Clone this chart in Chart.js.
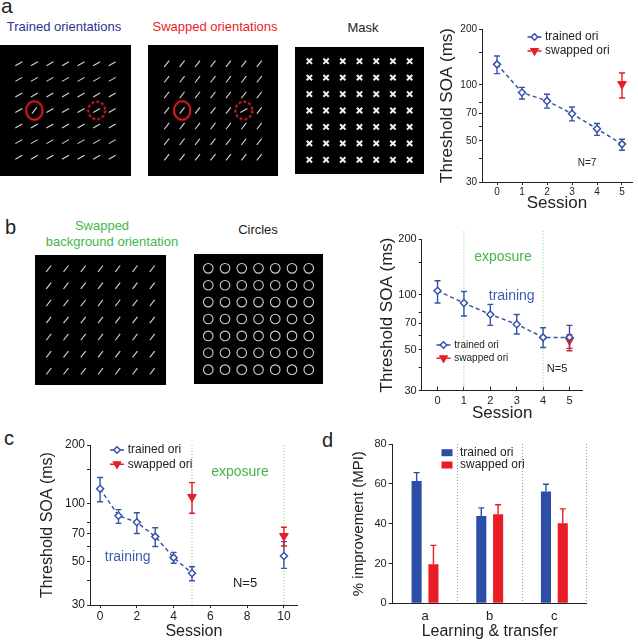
<!DOCTYPE html>
<html>
<head>
<meta charset="utf-8">
<script src="https://cdn.jsdelivr.net/npm/chart.js@4.4.1/dist/chart.umd.min.js"></script>
<style>
  body { margin: 0; background: #fff; font-family: "Liberation Sans", Arial, Helvetica, sans-serif; }
  #fig { position: relative; width: 638px; height: 640px; overflow: hidden; background: #fff; }
  #fig canvas { position: absolute; }
  .stim { background: #000; }
  .lbl { position: absolute; white-space: nowrap; line-height: 1; color: #222; }
  .ctr { width: 200px; text-align: center; }
</style>
</head>
<body>
<div id="fig">
  <div class="lbl" style="left:1px;top:-5px;font-size:21px;">a</div>
  <div class="lbl" style="left:5px;top:217px;font-size:20px;">b</div>
  <div class="lbl" style="left:4px;top:428px;font-size:20px;">c</div>
  <div class="lbl" style="left:322px;top:430px;font-size:20px;">d</div>

  <div class="lbl ctr" style="left:-36px;top:20px;font-size:13px;color:#2e3192;">Trained orientations</div>
  <div class="lbl ctr" style="left:115px;top:20px;font-size:13px;color:#ed1c24;">Swapped orientations</div>
  <div class="lbl ctr" style="left:263px;top:21px;font-size:13px;">Mask</div>
  <div class="lbl ctr" style="left:2px;top:219px;font-size:13px;color:#45b549;">Swapped</div>
  <div class="lbl ctr" style="left:12px;top:235px;font-size:13px;color:#45b549;">background orientation</div>
  <div class="lbl ctr" style="left:158px;top:223px;font-size:13px;">Circles</div>

  <canvas id="stimTrained" class="stim" width="131" height="131" style="left:0px;top:45px;"></canvas>
  <canvas id="stimSwapped" class="stim" width="130" height="131" style="left:148px;top:45px;"></canvas>
  <canvas id="stimMask" class="stim" width="129" height="127" style="left:295px;top:47px;"></canvas>
  <canvas id="stimBackground" class="stim" width="131" height="130" style="left:35px;top:255px;"></canvas>
  <canvas id="stimCircles" class="stim" width="129" height="130" style="left:194px;top:254px;"></canvas>

  <canvas id="chartA" width="208" height="205" style="left:430px;top:12px;"></canvas>
  <canvas id="chartB" width="268" height="200" style="left:370px;top:225px;"></canvas>
  <canvas id="chartC" width="320" height="215" style="left:0px;top:425px;"></canvas>
  <canvas id="chartD" width="318" height="215" style="left:320px;top:425px;"></canvas>
</div>

<script>
// ---- panel a: threshold SOA by session ----
const sessionsA = [0, 1, 2, 3, 4, 5];
const trainedA = [129, 91, 82, 70, 58, 48];
const trainedA_hi = [143, 97, 89, 76, 62, 51];
const trainedA_lo = [115, 84, 75, 64, 53.5, 44.5];
const swappedSessA = [5];
const swappedA = [101];
const swappedA_hi = [116];
const swappedA_lo = [85];

// ---- panel b ----
const sessionsB = [0, 1, 2, 3, 4, 5];
const trainedB = [105, 90, 78, 69, 58.5, 58.5];
const trainedB_hi = [119, 104, 88.5, 78, 66, 68];
const trainedB_lo = [90, 76.5, 68, 61, 51.5, 51];
const swappedSessB = [5];
const swappedB = [56.5];
const swappedB_hi = [60.5];
const swappedB_lo = [49.5];
const exposureB = [1, 4];

// ---- panel c ----
const sessionsC = [0, 1, 2, 3, 4, 5, 10];
const trainedC = [119, 86.5, 80, 67.5, 52.6, 43.7, 53.6];
const trainedC_hi = [136, 93, 89.6, 75, 56, 47.2, 63.6];
const trainedC_lo = [102, 79, 70, 60, 49.2, 40, 46.3];
const swappedSessC = [5, 10];
const swappedC = [108, 68];
const swappedC_hi = [128, 75.4];
const swappedC_lo = [89, 60.4];
const exposureC = [5, 10];

// ---- panel d: % improvement ----
const conditionsD = ['a', 'b', 'c'];
const trainedD = [61.4, 43.8, 56.2];
const trainedD_hi = [65.6, 47.9, 59.8];
const swappedD = [19.6, 44.7, 40.2];
const swappedD_hi = [29.1, 49.5, 47.4];

// ticks
const soaTicks = [30, 40, 50, 60, 70, 80, 100, 150, 200];
const soaLabels = [30, 50, 70, 100, 200];
const sessionTicksAB = [0, 1, 2, 3, 4, 5];
const sessionTicksC = [0, 2, 4, 6, 8, 10];
const mpiTicks = [0, 20, 40, 60, 80];

// stimulus displays (7x7 grids)
const gridCols = [1, 2, 3, 4, 5, 6, 7];
const gridRows = [1, 2, 3, 4, 5, 6, 7];
const shallowDeg = 30;
const steepDeg = 52;
const solidCell = [2, 4];
const dashedCell = [6, 4];

const BLUE = '#3653a6';
const BAR_BLUE = '#2c4ea6';
const RED = '#e81d25';
const GREEN = '#45b549';
const FONT = '"Liberation Sans", Arial, Helvetica, sans-serif';

Chart.defaults.font.family = FONT;
Chart.defaults.color = '#222';
Chart.defaults.animation = false;
Chart.defaults.events = [];
Chart.defaults.plugins.legend.display = false;
Chart.defaults.plugins.tooltip.enabled = false;

function drawMarker(ctx, style, x, y, r, fill, stroke, lw) {
    ctx.beginPath();
    if (style === 'rectRot') {
        ctx.moveTo(x, y - r); ctx.lineTo(x + r, y); ctx.lineTo(x, y + r); ctx.lineTo(x - r, y);
    } else {
        ctx.moveTo(x - r * 0.9, y - r * 0.55); ctx.lineTo(x + r * 0.9, y - r * 0.55); ctx.lineTo(x, y + r);
    }
    ctx.closePath();
    ctx.fillStyle = fill;
    ctx.fill();
    ctx.lineWidth = lw;
    ctx.strokeStyle = stroke;
    ctx.stroke();
}

// error bars, exposure lines, text notes and the small legends
const figExtras = {
    id: 'figExtras',
    beforeDatasetsDraw(chart, args, opts) {
        const ctx = chart.ctx, area = chart.chartArea;
        const xs = chart.scales.x, ys = chart.scales.y;
        (opts.vlines || []).forEach(v => {
            const x = xs.getPixelForValue(v);
            ctx.save();
            ctx.strokeStyle = '#7fcf7f';
            ctx.lineWidth = 1;
            ctx.setLineDash([1, 2]);
            ctx.beginPath();
            ctx.moveTo(x, area.top - (opts.vExtend || 0));
            ctx.lineTo(x, area.bottom);
            ctx.stroke();
            ctx.restore();
        });
        chart.data.datasets.forEach((ds, i) => {
            if (!ds.errHi) return;
            const meta = chart.getDatasetMeta(i);
            ctx.save();
            ctx.strokeStyle = ds.errColor;
            ctx.lineWidth = 1.4;
            meta.data.forEach((el, j) => {
                const top = ys.getPixelForValue(ds.errHi[j]);
                const bot = ds.errLo ? ys.getPixelForValue(ds.errLo[j]) : el.y;
                ctx.beginPath();
                ctx.moveTo(el.x, top); ctx.lineTo(el.x, bot);
                ctx.moveTo(el.x - 3, top); ctx.lineTo(el.x + 3, top);
                if (ds.errLo) { ctx.moveTo(el.x - 3, bot); ctx.lineTo(el.x + 3, bot); }
                ctx.stroke();
            });
            ctx.restore();
        });
    },
    afterDatasetsDraw(chart, args, opts) {
        const ctx = chart.ctx, area = chart.chartArea;
        ctx.save();
        ctx.textBaseline = 'middle';
        (opts.notes || []).forEach(n => {
            ctx.font = n.size + 'px ' + FONT;
            ctx.fillStyle = n.color || '#222';
            ctx.textAlign = 'center';
            ctx.fillText(n.text, area.left + n.x, area.top + n.y);
        });
        const lg = opts.legend;
        if (lg) {
            let y = area.top + lg.y;
            const cx = area.left + lg.x;
            chart.data.datasets.forEach(ds => {
                if (chart.config.type === 'bar') {
                    ctx.fillStyle = ds.backgroundColor;
                    ctx.fillRect(cx - 5.5, y - 3.5, 11, 7);
                } else {
                    ctx.strokeStyle = ds.errColor;
                    ctx.lineWidth = 1.5;
                    ctx.beginPath();
                    ctx.moveTo(cx - 7, y); ctx.lineTo(cx - 3, y);
                    ctx.moveTo(cx + 3, y); ctx.lineTo(cx + 7, y);
                    ctx.stroke();
                    if (ds.pointStyle === 'rectRot') drawMarker(ctx, 'rectRot', cx, y, 3.3, '#fff', ds.errColor, 1.5);
                    else drawMarker(ctx, 'tri', cx, y, 4.5, ds.errColor, ds.errColor, 1);
                }
                ctx.font = lg.size + 'px ' + FONT;
                ctx.fillStyle = '#222';
                ctx.textAlign = 'left';
                ctx.fillText(ds.label, cx + lg.tx, y);
                y += lg.gap;
            });
        }
        ctx.restore();
    }
};

function axisGrid(len) {
    return { drawOnChartArea: false, drawTicks: true, tickLength: len, color: '#222', lineWidth: 1 };
}

function soaChart(id, c) {
    return new Chart(document.getElementById(id), {
        type: 'line',
        data: {
            datasets: [
                {
                    label: 'trained ori',
                    data: c.sess.map((x, i) => ({ x: x, y: c.trained[i] })),
                    errHi: c.trainedHi, errLo: c.trainedLo, errColor: BLUE,
                    borderColor: BLUE, borderWidth: 1.5, borderDash: [4, 3],
                    pointStyle: 'rectRot', pointRadius: 3.5, pointBorderWidth: 1.5,
                    pointBorderColor: BLUE, pointBackgroundColor: '#fff',
                    segment: c.segment
                },
                {
                    label: 'swapped ori',
                    data: c.swSess.map((x, i) => ({ x: x, y: c.swapped[i] })),
                    errHi: c.swappedHi, errLo: c.swappedLo, errColor: RED,
                    showLine: false, borderColor: RED,
                    pointStyle: 'triangle', pointRotation: 180, pointRadius: 5,
                    pointBorderWidth: 1, pointBorderColor: RED, pointBackgroundColor: RED
                }
            ]
        },
        options: {
            responsive: false,
            layout: { padding: c.pad },
            scales: {
                x: {
                    type: 'linear', min: c.xmin, max: c.xmax,
                    afterBuildTicks: s => { s.ticks = c.xticks.map(v => ({ value: v })); },
                    afterFit: s => { s.height = c.xh; },
                    grid: axisGrid(c.xTickLen),
                    border: { display: true, color: '#222', width: 1 },
                    ticks: { font: { size: c.tickSize }, padding: c.xTickPad, autoSkip: false, maxRotation: 0 },
                    title: { display: true, text: 'Session', font: { size: c.titleSize, lineHeight: 1 }, padding: { top: 0, bottom: c.xtPad } }
                },
                y: {
                    type: 'logarithmic', min: 30, max: 200,
                    afterBuildTicks: s => { s.ticks = soaTicks.map(v => ({ value: v })); },
                    afterFit: s => { s.width = c.yw; },
                    grid: axisGrid(3),
                    border: { display: true, color: '#222', width: 1 },
                    ticks: {
                        font: { size: c.tickSize }, padding: 2, autoSkip: false,
                        callback: v => soaLabels.includes(v) ? String(v) : ''
                    },
                    title: { display: true, text: 'Threshold SOA (ms)', font: { size: c.titleSize, lineHeight: 1.2 }, padding: { top: c.ytPad, bottom: 0 } }
                }
            },
            plugins: { figExtras: c.extras }
        },
        plugins: [figExtras]
    });
}

soaChart('chartA', {
    sess: sessionsA, trained: trainedA, trainedHi: trainedA_hi, trainedLo: trainedA_lo,
    swSess: swappedSessA, swapped: swappedA, swappedHi: swappedA_hi, swappedLo: swappedA_lo,
    xmin: -0.6, xmax: 5.4, xticks: sessionTicksAB, xTickLen: 3, xTickPad: 1,
    pad: { top: 17, right: 2, bottom: 0, left: 0 }, xh: 35, yw: 52,
    tickSize: 10, titleSize: 17, xtPad: 5, ytPad: 7,
    extras: {
        notes: [{ text: 'N=7', x: 105, y: 134, size: 10 }],
        legend: { x: 52.5, y: 8, gap: 14, tx: 10.5, size: 12 }
    }
});

soaChart('chartB', {
    sess: sessionsB, trained: trainedB, trainedHi: trainedB_hi, trainedLo: trainedB_lo,
    swSess: swappedSessB, swapped: swappedB, swappedHi: swappedB_hi, swappedLo: swappedB_lo,
    xmin: -0.6, xmax: 5.5, xticks: sessionTicksAB, xTickLen: -4, xTickPad: 8,
    pad: { top: 14.3, right: 55.3, bottom: 0, left: 0 }, xh: 34.3, yw: 51.7,
    tickSize: 11, titleSize: 17, xtPad: 3.5, ytPad: 7,
    extras: {
        vlines: exposureB, vExtend: 8,
        notes: [
            { text: 'exposure', x: 81.3, y: 17.4, size: 14, color: GREEN },
            { text: 'training', x: 90, y: 56.4, size: 14, color: '#3d5cb0' },
            { text: 'N=5', x: 135.3, y: 130, size: 11 }
        ],
        legend: { x: 21.8, y: 105.7, gap: 13.3, tx: 10.8, size: 10 }
    }
});

soaChart('chartC', {
    sess: sessionsC, trained: trainedC, trainedHi: trainedC_hi, trainedLo: trainedC_lo,
    swSess: swappedSessC, swapped: swappedC, swappedHi: swappedC_hi, swappedLo: swappedC_lo,
    xmin: -0.55, xmax: 10.75, xticks: sessionTicksC, xTickLen: 3, xTickPad: 1,
    pad: { top: 20, right: 22.3, bottom: 0, left: 0 }, xh: 35, yw: 90,
    tickSize: 12, titleSize: 16, xtPad: 0, ytPad: 38.4,
    segment: { borderColor: ctx => sessionsC[ctx.p1DataIndex] > 5 ? 'rgba(0,0,0,0)' : undefined },
    extras: {
        vlines: exposureC,
        notes: [
            { text: 'exposure', x: 150, y: 26.7, size: 14, color: GREEN },
            { text: 'training', x: 37.7, y: 111.7, size: 14, color: '#3d5cb0' },
            { text: 'N=5', x: 155, y: 138, size: 13 }
        ],
        legend: { x: 27, y: 5, gap: 14.3, tx: 10.7, size: 12 }
    }
});

new Chart(document.getElementById('chartD'), {
    type: 'bar',
    data: {
        labels: conditionsD,
        datasets: [
            { label: 'trained ori', data: trainedD, errHi: trainedD_hi, errColor: BAR_BLUE, backgroundColor: BAR_BLUE, borderWidth: 0 },
            { label: 'swapped ori', data: swappedD, errHi: swappedD_hi, errColor: RED, backgroundColor: RED, borderWidth: 0 }
        ]
    },
    options: {
        responsive: false,
        layout: { padding: { top: 19, right: 51.3, bottom: 0, left: 0 } },
        datasets: { bar: { barPercentage: 0.6, categoryPercentage: 0.52 } },
        scales: {
            x: {
                afterFit: s => { s.height = 36.7; },
                grid: { drawOnChartArea: true, drawTicks: false, color: '#9a9a9a', lineWidth: 1 },
                border: { display: true, color: '#222', width: 1, dash: [1, 2] },
                ticks: { font: { size: 13 }, padding: 5 },
                title: { display: true, text: 'Learning & transfer', font: { size: 16, lineHeight: 1 }, padding: { top: 0, bottom: 0 } }
            },
            y: {
                min: 0, max: 80,
                afterBuildTicks: s => { s.ticks = mpiTicks.map(v => ({ value: v })); },
                afterFit: s => { s.width = 72.7; },
                grid: { drawOnChartArea: false, drawTicks: true, tickLength: 4, color: '#222' },
                border: { display: true, color: '#222', width: 1 },
                ticks: { font: { size: 11 }, padding: 2 },
                title: { display: true, text: '% improvement (MPI)', font: { size: 15, lineHeight: 1.2 }, padding: { top: 30, bottom: 0 } }
            }
        },
        plugins: { figExtras: { legend: { x: 54.3, y: 8.7, gap: 12.3, tx: 13, size: 12 } } }
    },
    plugins: [figExtras]
});

// ---- stimulus displays ----
const allCells = [];
gridRows.forEach(r => gridCols.forEach(c => allCells.push([c, r])));
const isCell = (a, b) => a[0] === b[0] && a[1] === b[1];
const bgCells = allCells.filter(p => !isCell(p, solidCell) && !isCell(p, dashedCell));

function ringImage(rx, ry, dashed) {
    const cv = document.createElement('canvas');
    cv.width = 24; cv.height = 24;
    const g = cv.getContext('2d');
    g.strokeStyle = RED;
    g.lineWidth = 2;
    if (dashed) g.setLineDash([3, 2]);
    g.beginPath();
    g.ellipse(12, 12, rx, ry, 0, 0, Math.PI * 2);
    g.stroke();
    return cv;
}
const solidRing = ringImage(8.2, 9.3, false);
const dashedRing = ringImage(8.5, 8.8, true);

function barsSet(cells, deg) {
    return {
        data: cells.map(p => ({ x: p[0], y: p[1] })),
        pointStyle: 'line', pointRotation: -deg, pointRadius: 4,
        pointBorderWidth: 1.1, pointBorderColor: '#d6d6d6', clip: false
    };
}
function ringSet(cell, img) {
    return { data: [{ x: cell[0], y: cell[1] }], pointStyle: img, pointRadius: 10, clip: false };
}
function stimulusChart(id, datasets) {
    return new Chart(document.getElementById(id), {
        type: 'scatter',
        data: { datasets: datasets },
        options: {
            responsive: false,
            layout: { padding: 0 },
            scales: {
                x: { display: false, min: 0.5, max: 7.5 },
                y: { display: false, min: 0.5, max: 7.5, reverse: true }
            }
        }
    });
}

stimulusChart('stimTrained', [
    barsSet(bgCells, shallowDeg),
    barsSet([solidCell], steepDeg),
    barsSet([dashedCell], shallowDeg),
    ringSet(solidCell, solidRing),
    ringSet(dashedCell, dashedRing)
]);
stimulusChart('stimSwapped', [
    barsSet(bgCells, steepDeg),
    barsSet([solidCell], steepDeg),
    barsSet([dashedCell], shallowDeg),
    ringSet(solidCell, solidRing),
    ringSet(dashedCell, dashedRing)
]);
stimulusChart('stimMask', [{
    data: allCells.map(p => ({ x: p[0], y: p[1] })),
    pointStyle: 'crossRot', pointRadius: 3.8, pointBorderWidth: 2, pointBorderColor: '#f0f0f0', clip: false
}]);
stimulusChart('stimBackground', [barsSet(allCells, steepDeg)]);
stimulusChart('stimCircles', [{
    data: allCells.map(p => ({ x: p[0], y: p[1] })),
    pointStyle: 'circle', pointRadius: 4.8, pointBorderWidth: 1.1,
    pointBorderColor: '#cfcfcf', pointBackgroundColor: 'rgba(0,0,0,0)', clip: false
}]);
</script>
</body>
</html>
